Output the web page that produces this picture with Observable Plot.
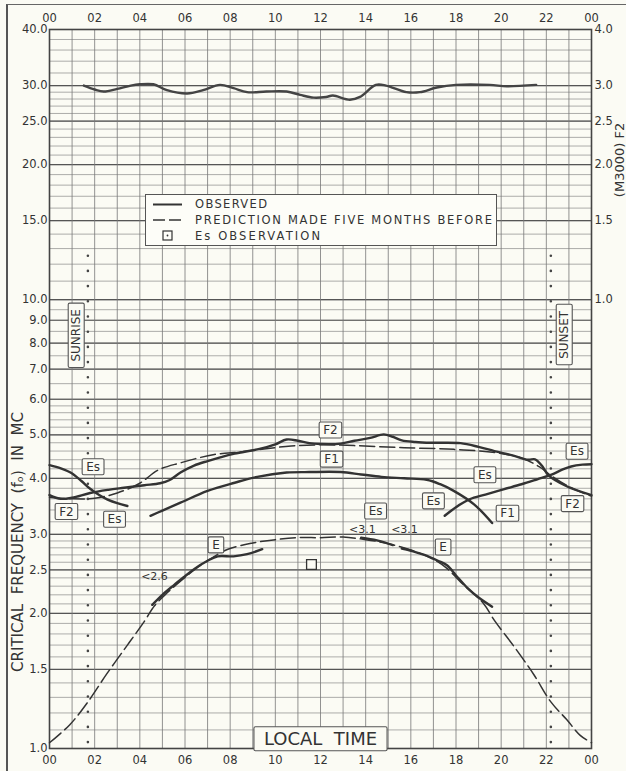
<!DOCTYPE html>
<html>
<head>
<meta charset="utf-8">
<script src="https://cdn.jsdelivr.net/npm/d3@7"></script>
<script src="https://cdn.jsdelivr.net/npm/@observablehq/plot@0.6"></script>
<style>
  html, body { margin: 0; padding: 0; background: #fbfbf4; }
  #wrap { position: relative; width: 626px; height: 771px; overflow: hidden; font-family: "DejaVu Sans", sans-serif; }
  #edge { position: absolute; left: 6px; top: 4px; right: -4px; bottom: -4px; border-left: 2px solid #555; border-top: 1.5px solid #666; pointer-events: none; }
  #legend { position: absolute; left: 145px; top: 194px; }
  #legend text { font-family: "DejaVu Sans", sans-serif; font-size: 11.5px; fill: #333; }
</style>
</head>
<body>
<div id="wrap">
  <div id="edge"></div>
  <svg id="legend" width="353" height="53">
    <rect x="0.5" y="0.5" width="351" height="51" fill="#fdfdf8" stroke="#555" stroke-width="1"></rect>
    <line x1="8" x2="37" y1="10.5" y2="10.5" stroke="#333" stroke-width="2"></line>
    <line x1="8" x2="37" y1="26" y2="26" stroke="#333" stroke-width="1.6" stroke-dasharray="12,4"></line>
    <rect x="18" y="37" width="9" height="9" fill="none" stroke="#333" stroke-width="1.2"></rect>
    <circle cx="22.5" cy="41.5" r="0.9" fill="#333"></circle>
    <text x="50" y="14.3" textLength="72" lengthAdjust="spacing">OBSERVED</text>
    <text x="50" y="30" textLength="297" lengthAdjust="spacing">PREDICTION MADE FIVE MONTHS BEFORE</text>
    <text x="50" y="46" textLength="125" lengthAdjust="spacing">Es OBSERVATION</text>
  </svg>
</div>
<script>
// ---- axis ticks and labels ----
const hourTicks = [0, 2, 4, 6, 8, 10, 12, 14, 16, 18, 20, 22, 24];
const hourLabels = ["00", "02", "04", "06", "08", "10", "12", "14", "16", "18", "20", "22", "00"];
const foTicks = [1, 1.5, 2, 2.5, 3, 4, 5, 6, 7, 8, 9, 10, 15, 20, 25, 30, 40];
const foLabels = ["1.0", "1.5", "2.0", "2.5", "3.0", "4.0", "5.0", "6.0", "7.0", "8.0", "9.0", "10.0", "15.0", "20.0", "25.0", "30.0", "40.0"];
const mTicks = [1.0, 1.5, 2.0, 2.5, 3.0, 4.0];
const mLabels = ["1.0", "1.5", "2.0", "2.5", "3.0", "4.0"];

// ---- grid values (chart paper) ----
const gridMinor = [].concat(
  d3.range(1, 3.001, 0.1),
  d3.range(3, 6.001, 0.2),
  d3.range(6, 10.001, 0.5),
  d3.range(10, 30.001, 1),
  d3.range(30, 40.001, 2)
);
const gridHours = d3.range(0, 25);

// ---- series: [hour, value] ----
const f2Observed = [[0,3.67],[0.5,3.60],[1.0,3.62],[1.8,3.71],[2.6,3.77],[3.3,3.81],[4.2,3.86],[4.9,3.90],[5.3,3.96],[5.8,4.12],[6.4,4.27],[7.0,4.37],[7.6,4.46],[8.2,4.54],[9.3,4.65],[10.0,4.76],[10.5,4.88],[11.0,4.85],[11.5,4.79],[12.0,4.77],[12.9,4.78],[13.5,4.85],[14.2,4.92],[14.8,5.01],[15.2,4.95],[15.6,4.86],[16.2,4.82],[16.9,4.80],[18.2,4.79],[19.0,4.70],[19.7,4.60],[20.5,4.50],[21.2,4.40],[21.5,4.41],[21.8,4.27],[22.1,4.06],[22.9,3.84],[24,3.67]];
const f2Predicted = [[0,3.63],[1.0,3.60],[2.0,3.61],[3.0,3.71],[4.0,3.90],[4.8,4.17],[5.8,4.33],[7.3,4.52],[8.5,4.58],[9.5,4.65],[10.7,4.72],[12,4.75],[13.5,4.73],[15.7,4.68],[17.9,4.64],[19.8,4.56],[20.9,4.44],[21.7,4.24],[22.2,4.06],[23.1,3.81],[24,3.65]];
const f1Observed = [[4.47,3.30],[5.0,3.39],[5.8,3.53],[7.0,3.75],[8.2,3.91],[9.2,4.03],[10.5,4.12],[11.5,4.13],[12.9,4.13],[13.8,4.08],[14.7,4.03],[15.7,4.00],[16.7,3.97],[17.3,3.88],[17.9,3.75],[18.8,3.50],[19.6,3.18]];
const esEvening = [[17.5,3.30],[18.0,3.45],[18.6,3.59],[19.3,3.68],[20.1,3.78],[20.9,3.88],[21.6,3.98],[22.2,4.07],[22.7,4.18],[23.1,4.25],[23.6,4.29],[24,4.30]];
const esMorning = [[0,4.28],[0.5,4.21],[0.93,4.12],[1.4,3.95],[1.8,3.79],[2.2,3.67],[2.55,3.59],[3.0,3.52],[3.45,3.47]];
const eMorning = [[4.55,2.09],[5.0,2.20],[5.5,2.31],[6.0,2.42],[6.4,2.51],[7.0,2.62],[7.45,2.68],[8.15,2.68],[8.75,2.71],[9.42,2.78]];
const eNoon = [[13.8,2.95],[14.5,2.91],[15.2,2.84]];
const eEvening = [[15.6,2.79],[16.1,2.75],[16.6,2.70],[17.2,2.62],[17.6,2.56],[18.0,2.43],[18.5,2.28],[19.0,2.17],[19.6,2.07]];
const ePredicted = [[0,1.03],[0.9,1.13],[1.7,1.27],[2.55,1.47],[3.45,1.70],[4.2,1.92],[4.65,2.08],[5.2,2.22],[5.8,2.36],[6.5,2.52],[7.2,2.66],[7.9,2.78],[9.0,2.87],[10.0,2.92],[11.0,2.95],[12.0,2.95],[13.0,2.96],[14.0,2.92],[15.0,2.86],[16.0,2.77],[17.0,2.64],[17.6,2.52],[18.2,2.35],[19.2,2.11],[19.7,1.93],[20.6,1.68],[21.45,1.46],[22.2,1.27],[22.9,1.16],[23.5,1.07],[24,1.03]];
const m3000 = [[1.52,3.00],[2.0,2.94],[2.4,2.91],[3.0,2.95],[3.6,3.00],[4.0,3.02],[4.6,3.02],[5.2,2.93],[6.1,2.88],[6.8,2.93],[7.55,3.01],[8.15,2.96],[8.75,2.90],[9.6,2.91],[10.5,2.91],[11.1,2.86],[11.7,2.82],[12.25,2.83],[12.55,2.85],[13.3,2.79],[13.75,2.83],[14.45,3.01],[14.9,3.00],[15.8,2.90],[16.4,2.90],[17.15,2.97],[18.0,3.01],[19.5,3.01],[20.25,2.99],[21.55,3.01]];
const esSquare = [[11.6, 2.57]];
const sunTimes = [1.7, 22.2];

// ---- annotations: text, hour, value ----
const curveLabels = [
  ["Es", 1.93, 4.24], ["F2", 0.75, 3.37], ["Es", 2.88, 3.24],
  ["F2", 12.44, 5.12], ["F1", 12.49, 4.41], ["E", 7.37, 2.84],
  ["Es", 19.28, 4.07], ["Es", 17.0, 3.56], ["Es", 14.44, 3.38],
  ["F1", 20.28, 3.34], ["F2", 23.16, 3.51], ["Es", 23.36, 4.59], ["E", 17.43, 2.81]
];
const limitLabels = [["<2.6", 4.65, 2.42], ["<3.1", 13.85, 3.07], ["<3.1", 15.72, 3.07]];
const sunLabels = [["SUNRISE", 1.19, 8.33], ["SUNSET", 22.8, 8.35]];
const timeLabel = [["LOCAL  TIME", 12.0, 1.047]];

const INK = "#333";
const PAPER = "#fbfbf4";
const X = d => d[0], Y = d => d[1];
const obs = {x: X, y: Y, curve: "catmull-rom", stroke: INK, strokeWidth: 2.4};
const pred = {x: X, y: Y, curve: "catmull-rom", stroke: INK, strokeWidth: 1.5, strokeDasharray: "15,5"};

const chart = Plot.plot({
  width: 626,
  height: 771,
  marginTop: 29,
  marginRight: 35,
  marginBottom: 23,
  marginLeft: 49,
  style: {background: PAPER, fontFamily: "DejaVu Sans, sans-serif", color: INK},
  x: {domain: [0, 24], axis: null},
  y: {type: "log", domain: [1, 40], axis: null},
  marks: [
    Plot.ruleY(gridMinor, {stroke: "#777", strokeWidth: 0.6}),
    Plot.ruleY(foTicks, {stroke: "#555", strokeWidth: 1.2}),
    Plot.ruleX(gridHours, {stroke: "#777", strokeWidth: 0.8}),
    Plot.ruleX(sunTimes, {y1: 12.5, y2: 1, stroke: "#444", strokeWidth: 2.6, strokeDasharray: "0,15.2", strokeLinecap: "round"}),
    Plot.frame({stroke: "#444", strokeWidth: 1.6}),
    Plot.line(m3000, {x: X, y: d => d[1] * 10, curve: "catmull-rom", stroke: "#444", strokeWidth: 2.4}),
    Plot.line(f2Predicted, pred),
    Plot.line(ePredicted, pred),
    Plot.line(f2Observed, obs),
    Plot.line(f1Observed, obs),
    Plot.line(esEvening, obs),
    Plot.line(esMorning, obs),
    Plot.line(eMorning, obs),
    Plot.line(eNoon, obs),
    Plot.line(eEvening, obs),
    Plot.dot(esSquare, {x: X, y: Y, symbol: "square", r: 5.5, stroke: INK, strokeWidth: 1.3, fill: PAPER}),
    Plot.text(curveLabels, {x: d => d[1], y: d => d[2], text: d => d[0], fontSize: 12, fill: INK, ariaDescription: "boxed 4 1"}),
    Plot.text(limitLabels, {x: d => d[1], y: d => d[2], text: d => d[0], fontSize: 11, fill: INK}),
    Plot.text(sunLabels, {x: d => d[1], y: d => d[2], text: d => d[0], fontSize: 12, rotate: -90, fill: INK, ariaDescription: "boxed 6 1"}),
    Plot.text(timeLabel, {x: d => d[1], y: d => d[2], text: d => d[0], fontSize: 18, fill: INK, ariaDescription: "boxed 10 1.5"}),
    Plot.axisX(hourTicks, {anchor: "top", tickSize: 0, tickPadding: 8, fontSize: 11.5, label: null, tickFormat: d => hourLabels[hourTicks.indexOf(d)]}),
    Plot.axisX(hourTicks, {anchor: "bottom", tickSize: 0, tickPadding: 7, fontSize: 11.5, label: null, tickFormat: d => hourLabels[hourTicks.indexOf(d)]}),
    Plot.axisY(foTicks, {anchor: "left", tickSize: 0, tickPadding: 2, fontSize: 11.5, label: null, tickFormat: d => foLabels[foTicks.indexOf(d)]}),
    Plot.axisY(mTicks.map(m => m * 10), {anchor: "right", tickSize: 0, tickPadding: 3, fontSize: 11.5, label: null, tickFormat: d => mLabels[mTicks.map(m => m * 10).indexOf(d)]}),
    Plot.text(["CRITICAL  FREQUENCY  (fₒ)  IN  MC"], {frameAnchor: "left", textAnchor: "middle", dx: -31, dy: 153, rotate: -90, fontSize: 15, fill: INK}),
    Plot.text(["(M3000) F2"], {frameAnchor: "right", textAnchor: "middle", dx: 28, dy: -229, rotate: -90, fontSize: 13, fill: INK})
  ]
});

const wrap = document.getElementById("wrap");
wrap.insertBefore(chart, wrap.firstChild);

// draw the boxes round the boxed labels
d3.select(chart).selectAll("g[aria-description^='boxed']").each(function () {
  const parts = this.getAttribute("aria-description").split(" ");
  const px = +parts[1], py = +parts[2];
  d3.select(this).selectAll("text").each(function () {
    const b = this.getBBox();
    const r = document.createElementNS("http://www.w3.org/2000/svg", "rect");
    r.setAttribute("x", b.x - px);
    r.setAttribute("y", b.y - py);
    r.setAttribute("width", b.width + 2 * px);
    r.setAttribute("height", b.height + 2 * py);
    r.setAttribute("fill", PAPER);
    r.setAttribute("stroke", "#555");
    r.setAttribute("stroke-width", "1.1");
    r.setAttribute("rx", "1.5");
    const t = this.getAttribute("transform");
    if (t) r.setAttribute("transform", t);
    this.parentNode.insertBefore(r, this);
  });
});
</script>
</body>
</html>
